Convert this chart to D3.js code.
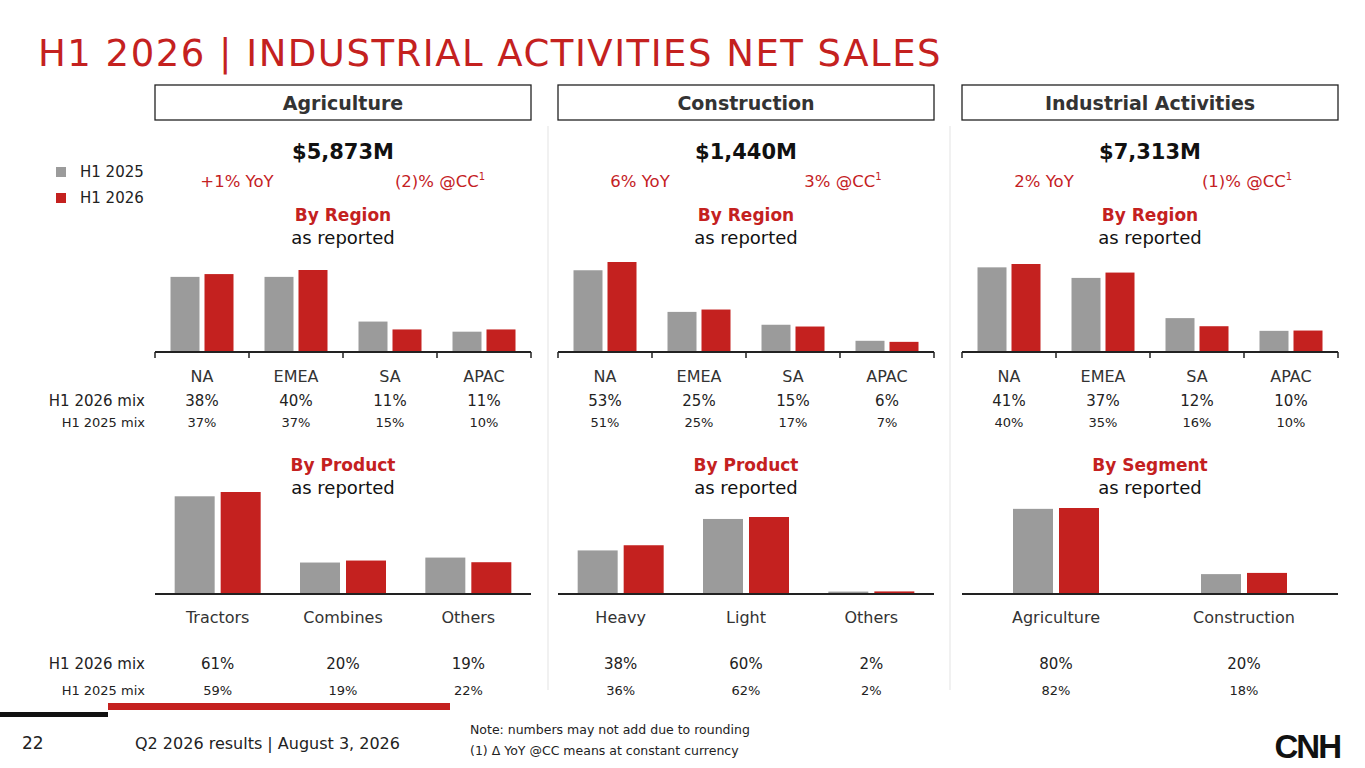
<!DOCTYPE html>
<html><head><meta charset="utf-8">
<script src="https://cdn.jsdelivr.net/npm/d3@7/dist/d3.min.js"></script>
<style>body{margin:0;background:#fff}svg{font-family:"DejaVu Sans",Verdana,sans-serif}</style>
</head><body><svg id="c" width="1365" height="768"></svg>
<script>
const series = ["H1 2025","H1 2026"];
const regions = ["NA","EMEA","SA","APAC"];
const panelTitles = ["Agriculture","Construction","Industrial Activities"];
const totals = ["$5,873M","$1,440M","$7,313M"];
const yoy = ["+1% YoY","6% YoY","2% YoY"];
const cc = ["(2)% @CC","3% @CC","(1)% @CC"];
// Region net sales ($M) [H1 2025, H1 2026]
const agriRegion25 = [2152,2152,872,582], agriRegion26 = [2232,2349,646,646];
const consRegion25 = [693,340,231,95],   consRegion26 = [763,360,216,86];
const iaRegion25  = [2884,2524,1154,721], iaRegion26 = [2998,2706,878,731];
const agriRegMix26 = ["38%","40%","11%","11%"], agriRegMix25 = ["37%","37%","15%","10%"];
const consRegMix26 = ["53%","25%","15%","6%"],  consRegMix25 = ["51%","25%","17%","7%"];
const iaRegMix26 = ["41%","37%","12%","10%"],   iaRegMix25 = ["40%","35%","16%","10%"];
const agriProducts = ["Tractors","Combines","Others"], consProducts = ["Heavy","Light","Others"], iaSegments = ["Agriculture","Construction"];
const agriProd25 = [3431,1105,1279], agriProd26 = [3582,1175,1116];
const consProd25 = [489,842,27],     consProd26 = [547,864,29];
const iaSeg25 = [5815,1358],         iaSeg26 = [5873,1440];
const agriProdMix26 = ["61%","20%","19%"], agriProdMix25 = ["59%","19%","22%"];
const consProdMix26 = ["38%","60%","2%"],  consProdMix25 = ["36%","62%","2%"];
const iaSegMix26 = ["80%","20%"],          iaSegMix25 = ["82%","18%"];
const prodTitles = ["By Product","By Product","By Segment"];

const RED="#c4211f", GRAY="#9b9b9b";
const svg=d3.select("#c");
svg.append("text").attr("x",38).attr("y",66).attr("fill",RED).attr("font-size",37).attr("letter-spacing",1.5).text("H1 2026 | INDUSTRIAL ACTIVITIES NET SALES");

const panels=[
 {x:155,reg:[agriRegion25,agriRegion26],rm:[agriRegMix26,agriRegMix25],pc:agriProducts,pr:[agriProd25,agriProd26],pm:[agriProdMix26,agriProdMix25],rh:82,ph:102},
 {x:558,reg:[consRegion25,consRegion26],rm:[consRegMix26,consRegMix25],pc:consProducts,pr:[consProd25,consProd26],pm:[consProdMix26,consProdMix25],rh:90,ph:77},
 {x:962,reg:[iaRegion25,iaRegion26],rm:[iaRegMix26,iaRegMix25],pc:iaSegments,pr:[iaSeg25,iaSeg26],pm:[iaSegMix26,iaSegMix25],rh:88,ph:86}];
const W=376;
[548,950].forEach(x=>svg.append("line").attr("x1",x).attr("x2",x).attr("y1",126).attr("y2",690).attr("stroke","#e3e3e3"));

function chart(g,cats,vals,mixes,base,maxH,inner,bw,labY,mixY,ticks){
  const x=d3.scaleBand().domain(cats).range([0,W]).paddingInner(0).paddingOuter(0);
  const mx=d3.max(vals.flat());
  const y=d3.scaleLinear().domain([0,mx]).range([base,base-maxH]);
  const sub=d3.scaleBand().domain([0,1]).range([0,2*bw+inner]).paddingInner(inner/(bw+inner/2)/2);
  cats.forEach((c,i)=>{
    [0,1].forEach(s=>{
      const cx=x(c)+x.bandwidth()/2-(bw+inner/2);
      g.append("rect").attr("x",cx+s*(bw+inner)).attr("width",bw)
       .attr("y",y(vals[s][i])).attr("height",base-y(vals[s][i])).attr("fill",s?RED:GRAY);
    });
    const cx=x(c)+x.bandwidth()/2;
    g.append("text").attr("x",cx).attr("y",labY).attr("text-anchor","middle").attr("font-size",16).attr("fill","#333").text(c);
    g.append("text").attr("x",cx).attr("y",mixY).attr("text-anchor","middle").attr("font-size",15).attr("fill","#222").text(mixes[0][i]);
    g.append("text").attr("x",cx).attr("y",mixY+ (labY>500?26:21)).attr("text-anchor","middle").attr("font-size",13).attr("fill","#222").text(mixes[1][i]);
  });
  const ax=g.append("g").attr("transform",`translate(0,${base})`).call(d3.axisBottom(x).tickSize(0).tickFormat(""));
  ax.select(".domain").attr("stroke","#222").attr("stroke-width",2).attr("d",`M0,0H${W}`);
  if(ticks){ x.domain().map(c=>x(c)).concat([W]).forEach(t=>ax.append("line").attr("x1",t).attr("x2",t).attr("y1",0).attr("y2",6).attr("stroke","#222").attr("stroke-width",1.5)); }
}

panels.forEach((p,k)=>{
  const g=svg.append("g").attr("transform",`translate(${p.x},0)`);
  g.append("rect").attr("x",0).attr("y",85).attr("width",W).attr("height",35).attr("fill","#fff").attr("stroke","#222").attr("stroke-width",1.3);
  g.append("text").attr("x",W/2).attr("y",110).attr("text-anchor","middle").attr("font-size",19).attr("font-weight","bold").attr("fill","#333").text(panelTitles[k]);
  g.append("text").attr("x",W/2).attr("y",159).attr("text-anchor","middle").attr("font-size",21).attr("font-weight","bold").attr("fill","#111").text(totals[k]);
  g.append("text").attr("x",82).attr("y",187).attr("text-anchor","middle").attr("font-size",16.5).attr("fill",RED).text(yoy[k]);
  const t=g.append("text").attr("x",285).attr("y",187).attr("text-anchor","middle").attr("font-size",16.5).attr("fill",RED).text(cc[k]);
  t.append("tspan").attr("font-size",10).attr("dy",-7).text("1");
  [["By Region",221],[prodTitles[k],471]].forEach(([s,yy])=>{
    g.append("text").attr("x",W/2).attr("y",yy).attr("text-anchor","middle").attr("font-size",17).attr("font-weight","bold").attr("fill",RED).text(s);
    g.append("text").attr("x",W/2).attr("y",yy+23).attr("text-anchor","middle").attr("font-size",18).attr("fill","#111").text("as reported");
  });
  chart(g,regions,p.reg,p.rm,352,p.rh,5,29,382,406,true);
  chart(g,p.pc,p.pr,p.pm,594,p.ph,6,40,623,669,false);
});
[["H1 2026 mix",406,15],["H1 2025 mix",427,13],["H1 2026 mix",669,15],["H1 2025 mix",695,13]].forEach(([s,y,f])=>
  svg.append("text").attr("x",145).attr("y",y).attr("text-anchor","end").attr("font-size",f).attr("fill","#222").text(s));
series.forEach((s,i)=>{
  svg.append("rect").attr("x",56).attr("y",167+i*26).attr("width",10).attr("height",10).attr("fill",i?RED:GRAY);
  svg.append("text").attr("x",80).attr("y",177+i*26).attr("font-size",15).attr("fill","#222").text(s);
});
svg.append("rect").attr("x",0).attr("y",712).attr("width",108).attr("height",5).attr("fill","#111");
svg.append("rect").attr("x",108).attr("y",703).attr("width",342).attr("height",7).attr("fill",RED);
svg.append("text").attr("x",22).attr("y",749).attr("font-size",17).attr("fill","#222").text("22");
svg.append("text").attr("x",135).attr("y",749).attr("font-size",16).attr("fill","#222").text("Q2 2026 results | August 3, 2026");
svg.append("text").attr("x",470).attr("y",734).attr("font-size",12.5).attr("fill","#222").text("Note: numbers may not add due to rounding");
svg.append("text").attr("x",470).attr("y",755).attr("font-size",12.5).attr("fill","#222").text("(1) Δ YoY @CC means at constant currency");
svg.append("text").attr("x",1340).attr("y",758).attr("text-anchor","end").attr("font-size",33).attr("font-weight",900).attr("letter-spacing",-2).attr("fill","#111").attr("font-family","'Liberation Sans',Arial,sans-serif").attr("transform","scale(1,1)").text("CNH");
</script></body></html>
